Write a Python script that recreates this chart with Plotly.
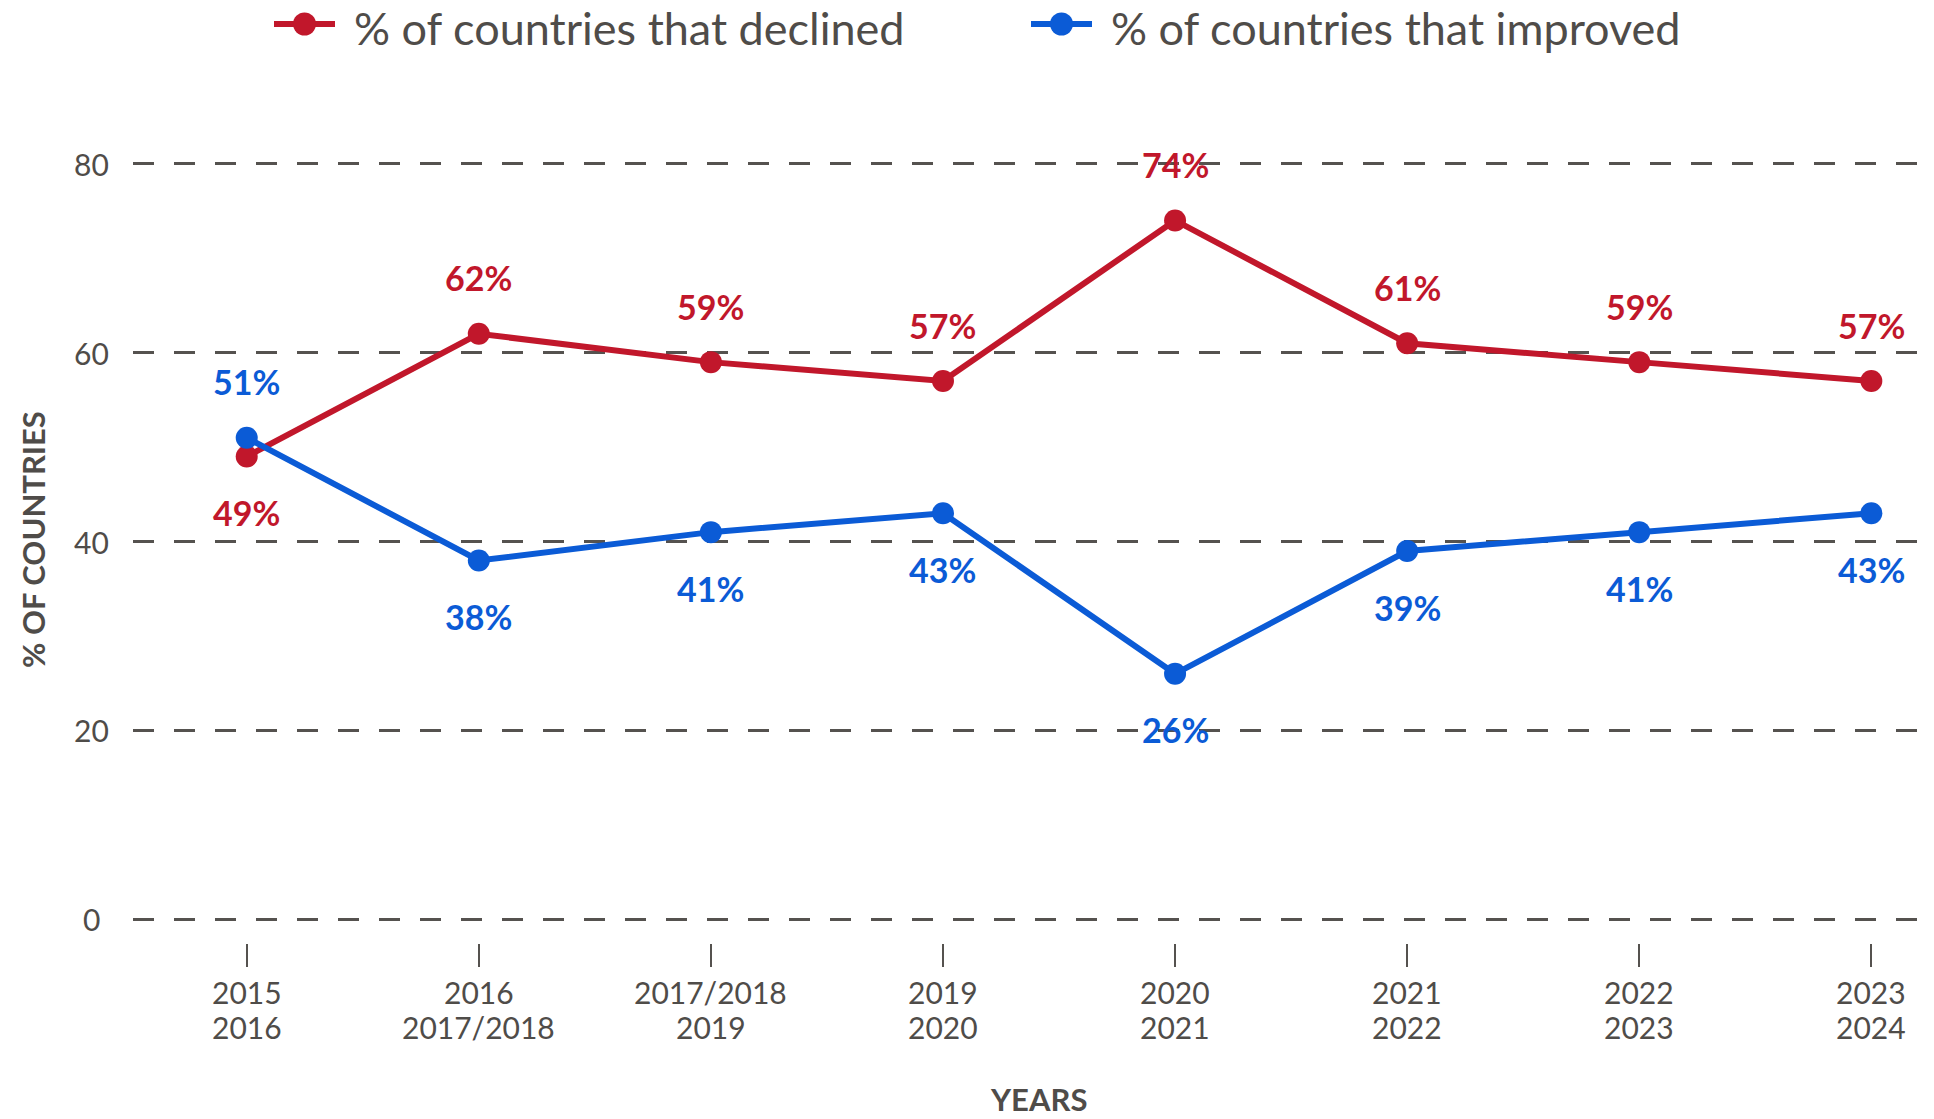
import plotly.graph_objects as go

categories = ["2015<br>2016", "2016<br>2017/2018", "2017/2018<br>2019", "2019<br>2020",
              "2020<br>2021", "2021<br>2022", "2022<br>2023", "2023<br>2024"]
declined = [49, 62, 59, 57, 74, 61, 59, 57]
improved = [51, 38, 41, 43, 26, 39, 41, 43]
y_ticks = [0, 20, 40, 60, 80]
declined_name = "% of countries that declined"
improved_name = "% of countries that improved"
y_title = "% OF COUNTRIES"
x_title = "YEARS"

RED = "#C1172B"
BLUE = "#0B5BD6"
GRAY = "#4F4C49"
GRID = "#55524F"
FONT = "Lato"

# label placement: +1 above the point, -1 below
declined_side = [-1, 1, 1, 1, 1, 1, 1, 1]
improved_side = [1, -1, -1, -1, -1, -1, -1, -1]

W, H = 1934, 1119
L, R, T, B = 133, 0, 126, 176
PW, PH = W - L - R, H - T - B


def px(x):
    return (x - L) / PW


def py(y):
    return (H - B - y) / PH


xs = list(range(len(categories)))

fig = go.Figure()
fig.add_trace(go.Scatter(x=xs, y=declined, name=declined_name, mode="lines+markers",
                         line=dict(color=RED, width=6), marker=dict(color=RED, size=22),
                         cliponaxis=False))
fig.add_trace(go.Scatter(x=xs, y=improved, name=improved_name, mode="lines+markers",
                         line=dict(color=BLUE, width=6), marker=dict(color=BLUE, size=22),
                         cliponaxis=False))

annotations = []
# data labels
for series, sides, color in ((declined, declined_side, RED), (improved, improved_side, BLUE)):
    for x, v, s in zip(xs, series, sides):
        annotations.append(dict(x=x, y=v, xref="x", yref="y", text=f"{v}%", showarrow=False,
                                xanchor="center", yanchor="middle", yshift=56 * s,
                                font=dict(family=FONT, size=34, color=color, weight="bold")))

# x tick labels (two lines each, tight spacing)
for x, cat in zip(xs, categories):
    for i, line in enumerate(cat.split("<br>")):
        annotations.append(dict(x=x, xref="x", y=py(992 + 35 * i), yref="paper", text=line,
                                showarrow=False, xanchor="center", yanchor="middle",
                                font=dict(family=FONT, size=30, color=GRAY)))

# y tick labels (centred)
for v in y_ticks:
    annotations.append(dict(x=px(91), xref="paper", y=v, yref="y", text=str(v), showarrow=False,
                            xanchor="center", yanchor="middle",
                            font=dict(family=FONT, size=30, color=GRAY)))

# axis titles
annotations.append(dict(text=y_title, xref="paper", yref="paper", x=px(33), y=py(540),
                        xanchor="center", yanchor="middle", textangle=-90, showarrow=False,
                        font=dict(family=FONT, size=31, color=GRAY, weight="bold")))
annotations.append(dict(text=x_title, xref="paper", yref="paper", x=px(1038), y=py(1099),
                        xanchor="center", yanchor="middle", showarrow=False,
                        font=dict(family=FONT, size=31, color=GRAY, weight="bold")))

# custom legend
shapes = []
for name, color, x0 in ((declined_name, RED, 274), (improved_name, BLUE, 1031)):
    ly = 24
    shapes.append(dict(type="line", xref="paper", yref="paper", x0=px(x0), x1=px(x0 + 61),
                       y0=py(ly), y1=py(ly), line=dict(color=color, width=6)))
    cx = x0 + 30.5
    shapes.append(dict(type="circle", xref="paper", yref="paper", x0=px(cx - 11.5), x1=px(cx + 11.5),
                       y0=py(ly + 11.5), y1=py(ly - 11.5), fillcolor=color, line=dict(width=0)))
    annotations.append(dict(text=name, xref="paper", yref="paper", x=px(x0 + 78), y=py(28),
                            xanchor="left", yanchor="middle", showarrow=False,
                            font=dict(family=FONT, size=45, color=GRAY)))

fig.update_layout(
    width=W, height=H,
    margin=dict(l=L, r=R, t=T, b=B, autoexpand=False),
    paper_bgcolor="white", plot_bgcolor="white",
    font=dict(family=FONT, color=GRAY),
    showlegend=False,
    annotations=annotations,
    shapes=shapes,
    hovermode=False,
)
fig.update_xaxes(range=[-0.49, 7.27], tickmode="array", tickvals=xs, showticklabels=False,
                 showgrid=False, zeroline=False, showline=False,
                 ticks="outside", ticklen=23, tickwidth=2, tickcolor=GRID)
fig.update_yaxes(range=[-2.5, 84], tickvals=y_ticks, showticklabels=False, showgrid=True,
                 gridcolor=GRID, gridwidth=2.5, griddash="21px,20px", zeroline=False,
                 showline=False, ticks="")

fig.write_html("out.html")
